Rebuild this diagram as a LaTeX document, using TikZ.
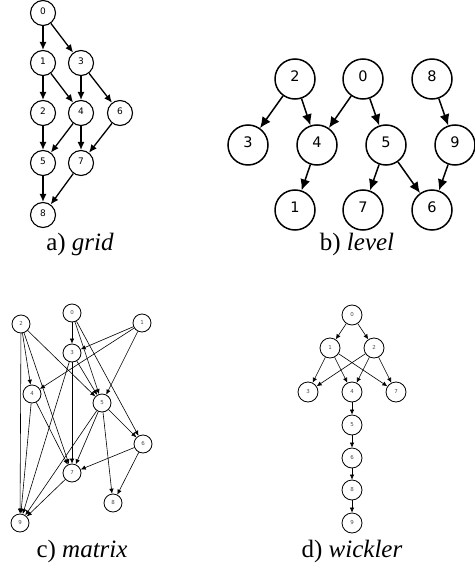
\documentclass[tikz,border=0pt]{standalone}
\usepackage{fontspec}
\setmainfont{Liberation Serif}
\newfontfamily\nodefont{DejaVu Sans}
\usepackage{tikz}
\usetikzlibrary{arrows.meta,positioning}

\begin{document}
\begin{tikzpicture}[
    x=1pt, y=-1pt,
    gnode/.style={
        circle,
        draw,
        line width=1.1pt,
        minimum size=25pt,
        inner sep=0pt,
        text height=6.5pt,
        text depth=3pt,
        font=\nodefont\fontsize{9}{9}\selectfont
    },
    lnode/.style={
        circle,
        draw,
        line width=1.5pt,
        minimum size=40pt,
        inner sep=0pt,
        text height=10.5pt,
        text depth=5pt,
        font=\nodefont\fontsize{14.5}{15}\selectfont
    },
    snode/.style={
        circle,
        draw,
        line width=0.8pt,
        minimum size=18pt,
        inner sep=0pt,
        text height=4pt,
        text depth=2pt,
        text=black!70,
        font=\nodefont\fontsize{5.5}{6}\selectfont
    },
    caption/.style={font=\fontsize{25}{30}\selectfont},
    gedge/.style={-{Latex[length=8pt,width=7pt]}, line width=1.3pt},
    ledge/.style={-{Latex[length=11pt,width=10pt]}, line width=1.5pt},
    sedge/.style={-{Latex[length=5pt,width=4.5pt]}, line width=0.6pt}
]
    \useasboundingbox (0,0) rectangle (474,575);

    % a) grid
    \node[gnode] (g0) at (43,13) {0};
    \node[gnode] (g1) at (43,63) {1};
    \node[gnode] (g3) at (81,63) {3};
    \node[gnode] (g2) at (43,113) {2};
    \node[gnode] (g4) at (81,113) {4};
    \node[gnode] (g6) at (120,113) {6};
    \node[gnode] (g5) at (43,163) {5};
    \node[gnode] (g7) at (81,163) {7};
    \node[gnode] (g8) at (43,215) {8};
    \foreach \a/\b in {0/1,0/3,1/2,1/4,3/4,3/6,2/5,4/5,4/7,6/7,5/8,7/8}
        \draw[gedge] (g\a) -- (g\b);
    \node[caption] (capa) at (80,244) {a) \textit{grid}};

    % b) level
    \node[lnode] (l2) at (295,79) {2};
    \node[lnode] (l0) at (363,79) {0};
    \node[lnode] (l8) at (432,79) {8};
    \node[lnode] (l3) at (248,145) {3};
    \node[lnode] (l4) at (317,145) {4};
    \node[lnode] (l5) at (386,145) {5};
    \node[lnode] (l9) at (455,145) {9};
    \node[lnode] (l1) at (295,210) {1};
    \node[lnode] (l7) at (363,210) {7};
    \node[lnode] (l6) at (432,210) {6};
    \foreach \a/\b in {2/3,2/4,0/4,0/5,8/9,4/1,5/7,5/6,9/6}
        \draw[ledge] (l\a) -- (l\b);
    \node[caption] (capb) at (357,244) {b) \textit{level}};

    % c) matrix
    \node[snode] (m2) at (21,324) {2};
    \node[snode] (m0) at (72,313) {0};
    \node[snode] (m1) at (142,323) {1};
    \node[snode] (m3) at (72,353) {3};
    \node[snode] (m4) at (32,394) {4};
    \node[snode] (m5) at (102,403) {5};
    \node[snode] (m6) at (143,444) {6};
    \node[snode] (m7) at (72,473) {7};
    \node[snode] (m8) at (113,503) {8};
    \node[snode] (m9) at (20,523) {9};
    \foreach \a/\b in {0/3,0/5,0/6,1/3,1/4,1/5,2/4,2/5,2/7,2/9,3/5,3/7,3/9,
                       4/7,4/9,5/6,5/7,5/8,5/9,6/7,6/8,7/9}
        \draw[sedge] (m\a) -- (m\b);
    \node[caption] (capc) at (82,551) {c) \textit{matrix}};

    % d) wickler
    \node[snode, minimum size=20pt] (w0) at (352,315) {0};
    \node[snode, minimum size=20pt] (w1) at (330,348) {1};
    \node[snode, minimum size=20pt] (w2) at (374,348) {2};
    \node[snode, minimum size=20pt] (w3) at (308,392) {3};
    \node[snode, minimum size=20pt] (w4) at (352,392) {4};
    \node[snode, minimum size=20pt] (w7) at (396,392) {7};
    \node[snode, minimum size=20pt] (w5) at (352,425) {5};
    \node[snode, minimum size=20pt] (w6) at (352,458) {6};
    \node[snode, minimum size=20pt] (w8) at (352,490) {8};
    \node[snode, minimum size=20pt] (w9) at (352,523) {9};
    \foreach \a/\b in {0/1,0/2,1/3,1/4,1/7,2/3,2/4,2/7,4/5,5/6,6/8,8/9}
        \draw[sedge] (w\a) -- (w\b);
    \node[caption] (capd) at (352,551) {d) \textit{wickler}};
\end{tikzpicture}
\end{document}
